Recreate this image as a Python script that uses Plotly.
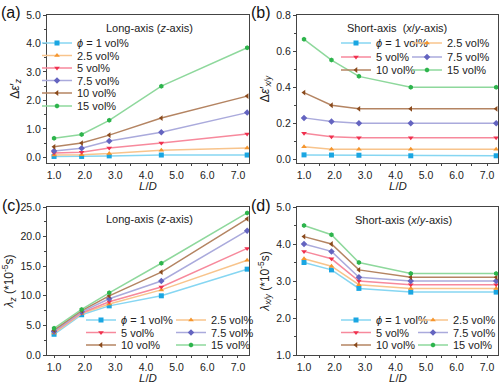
import plotly.graph_objects as go

# ---------------- data ----------------
LD = [1.0, 1.9, 2.8, 4.5, 7.3]
phi_names = ["<i>ϕ</i> = 1 vol%", "2.5 vol%", "5 vol%", "7.5 vol%", "10 vol%", "15 vol%"]

# (a) long-axis permittivity increment
deps_z = [
    [0.03, 0.03, 0.05, 0.08, 0.08],
    [0.08, 0.09, 0.13, 0.25, 0.33],
    [0.15, 0.18, 0.33, 0.50, 0.82],
    [0.22, 0.32, 0.57, 0.88, 1.57],
    [0.37, 0.50, 0.78, 1.38, 2.15],
    [0.67, 0.80, 1.30, 2.50, 3.85],
]
# (b) short-axis permittivity increment
deps_xy = [
    [0.025, 0.024, 0.023, 0.020, 0.020],
    [0.070, 0.056, 0.056, 0.056, 0.056],
    [0.145, 0.125, 0.120, 0.120, 0.120],
    [0.230, 0.210, 0.200, 0.200, 0.200],
    [0.370, 0.300, 0.280, 0.280, 0.280],
    [0.665, 0.550, 0.460, 0.400, 0.400],
]
# (c) long-axis relaxation time
lam_z = [
    [3.5, 6.8, 8.3, 10.0, 14.5],
    [3.7, 7.0, 8.6, 11.0, 16.0],
    [3.9, 7.1, 9.0, 11.5, 18.0],
    [4.0, 7.3, 9.5, 12.5, 21.0],
    [4.2, 7.5, 10.0, 14.0, 23.0],
    [4.5, 7.7, 10.5, 15.5, 24.0],
]
# (d) short-axis relaxation time
lam_xy = [
    [3.5, 3.3, 2.8, 2.7, 2.7],
    [3.6, 3.4, 2.9, 2.8, 2.8],
    [3.8, 3.6, 3.0, 2.9, 2.9],
    [4.0, 3.8, 3.1, 3.0, 3.0],
    [4.2, 4.0, 3.3, 3.1, 3.1],
    [4.5, 4.25, 3.5, 3.2, 3.2],
]

x_ticks = [1.0, 2.0, 3.0, 4.0, 5.0, 6.0, 7.0]
x_title = "<i>L</i>/<i>D</i>"

# ---------------- styles ----------------
marker_colors = ["#1aa6e2", "#f5962e", "#f0304e", "#6464c0", "#8a4a1c", "#2db44c"]
line_colors = ["#86d6f2", "#f8c48c", "#f7899c", "#aaaadc", "#b48462", "#8ed89c"]
symbols = ["square", "triangle-up", "triangle-down", "diamond", "triangle-left", "hexagon"]

FONT = "Liberation Sans, Arial, sans-serif"
W, H = 500, 385
MB = 30  # bottom margin
PH = H - MB

def px_x(v):
    return v / W

def px_y(v):
    return 1 - v / PH

# subplot boxes in pixels: (left, right, top, bottom)
boxes = [(47, 249, 15, 163), (297, 498, 15, 163), (47, 249, 207, 355), (297, 498, 207, 355)]
xrange_ = [0.77, 7.36]
yranges = [[-0.2, 5.0], [-0.02, 0.8], [0, 25], [1.0, 5.0]]
ytick0 = [0.0, 0.0, 0.0, 1.0]
ydticks = [1.0, 0.2, 5.0, 1.0]
yminor = [0.5, 0.1, 2.5, 0.5]
ytitles = [
    "Δ<i>ε</i>′<sub><i>z</i></sub>",
    "Δ<i>ε</i>′<sub><i>x/y</i></sub>",
    "<i>λ</i><sub><i>z</i></sub> (*10<sup>-5</sup>s)",
    "<i>λ</i><sub><i>x/y</i></sub> (*10<sup>-5</sup>s)",
]
panel_data = [deps_z, deps_xy, lam_z, lam_xy]
panel_letters = ["(a)", "(b)", "(c)", "(d)"]
panel_titles = ["Long-axis (<i>z</i>-axis)", "Short-axis  (<i>x</i>/<i>y</i>-axis)",
                "Long-axis (<i>z</i>-axis)", "Short-axis (<i>x</i>/<i>y</i>-axis)"]
title_pos = [(149, 28), (397, 28), (149, 219), (403, 220)]
letter_pos = [(11, 13), (261, 13), (11, 205), (261, 205)]
xtitle_y = [185.5, 185.5, 378.5, 378.5]

# legend entry positions (text start x, row center y) for each panel
legend_pos = [
    [(77, 43), (77, 55.5), (77, 68), (77, 80.5), (77, 93), (77, 106)],
    [(376, 43), (447, 43), (376, 57), (447, 57), (376, 70), (447, 70)],
    [(121, 320), (211, 320), (121, 332.5), (211, 332.5), (121, 345), (211, 345)],
    [(376, 320), (453, 320), (376, 332.5), (453, 332.5), (376, 345), (453, 345)],
]

AX = "#444"
fig = go.Figure()
layout = dict(
    width=W, height=H,
    margin=dict(l=0, r=0, t=0, b=MB, autoexpand=False),
    paper_bgcolor="white", plot_bgcolor="white",
    font=dict(family=FONT, size=11, color="#222"),
    showlegend=True,
    annotations=[],
)

leg_idx = 0
for p in range(4):
    xa = "x" if p == 0 else f"x{p+1}"
    ya = "y" if p == 0 else f"y{p+1}"
    for s in range(6):
        leg_idx += 1
        lname = "legend" if leg_idx == 1 else f"legend{leg_idx}"
        fig.add_trace(go.Scatter(
            x=LD, y=panel_data[p][s], name=phi_names[s],
            mode="lines+markers",
            line=dict(color=line_colors[s], width=1.5),
            marker=dict(color=marker_colors[s], symbol=symbols[s], size=5, line=dict(width=0)),
            xaxis=xa, yaxis=ya, legend=lname,
        ))
        tx, ty = legend_pos[p][s]
        layout[lname] = dict(
            x=px_x(tx - 40), y=px_y(ty), xanchor="left", yanchor="middle",
            bgcolor="rgba(0,0,0,0)", borderwidth=0,
            font=dict(family=FONT, size=11, color="#222"),
        )

    l, r, t, b = boxes[p]
    xkey = "xaxis" if p == 0 else f"xaxis{p+1}"
    ykey = "yaxis" if p == 0 else f"yaxis{p+1}"
    layout[xkey] = dict(
        domain=[px_x(l), px_x(r)], anchor=ya, range=xrange_,
        tickvals=x_ticks, tickformat=".1f",
        ticks="outside", ticklen=2, tickcolor=AX,
        minor=dict(ticks="outside", ticklen=2, dtick=0.5, tick0=0.5, tickcolor=AX),
        showline=True, linecolor=AX, linewidth=1, mirror=True,
        showgrid=False, zeroline=False,
        tickfont=dict(family=FONT, size=10.5, color="#222"),
    )
    layout[ykey] = dict(
        domain=[px_y(b), px_y(t)], anchor=xa, range=yranges[p],
        tick0=ytick0[p], dtick=ydticks[p], tickformat=".1f",
        ticks="outside", ticklen=3, tickcolor=AX,
        minor=dict(ticks="outside", ticklen=2, dtick=yminor[p], tickcolor=AX),
        showline=True, linecolor=AX, linewidth=1, mirror=True,
        showgrid=False, zeroline=False,
        tickfont=dict(family=FONT, size=10.5, color="#222"),
        title=dict(text=ytitles[p], font=dict(family=FONT, size=12, color="#222"), standoff=4),
    )
    # mirrored inside ticks on top and right edges
    layout[f"xaxis{p+5}"] = dict(
        overlaying=xa, anchor=ya, side="top", range=xrange_,
        tickvals=x_ticks, showticklabels=False,
        ticks="inside", ticklen=3, tickcolor=AX,
        minor=dict(ticks="inside", ticklen=2, dtick=0.5, tick0=0.5, tickcolor=AX),
        showline=False, showgrid=False, zeroline=False,
    )
    layout[f"yaxis{p+5}"] = dict(
        overlaying=ya, anchor=xa, side="right", range=yranges[p],
        tick0=ytick0[p], dtick=ydticks[p], showticklabels=False,
        ticks="inside", ticklen=3, tickcolor=AX,
        minor=dict(ticks="inside", ticklen=2, dtick=yminor[p], tickcolor=AX),
        showline=False, showgrid=False, zeroline=False,
    )
    # x-axis title
    layout["annotations"].append(dict(
        text=x_title, xref="paper", yref="paper",
        x=px_x((l + r) / 2), y=px_y(xtitle_y[p]), xanchor="center", yanchor="middle",
        showarrow=False, font=dict(family=FONT, size=11.5, color="#222"),
    ))
    # panel letter
    lx, ly = letter_pos[p]
    layout["annotations"].append(dict(
        text=panel_letters[p], xref="paper", yref="paper",
        x=px_x(lx), y=px_y(ly), xanchor="center", yanchor="middle",
        showarrow=False, font=dict(family=FONT, size=16, color="#111"),
    ))
    # panel title
    px_, py_ = title_pos[p]
    layout["annotations"].append(dict(
        text=panel_titles[p], xref="paper", yref="paper",
        x=px_x(px_), y=px_y(py_), xanchor="center", yanchor="middle",
        showarrow=False, font=dict(family=FONT, size=11, color="#222"),
    ))

fig.update_layout(**layout)
fig.write_html(
    "out.html",
    config={"displayModeBar": False},
    post_script="document.body.style.margin='0px';",
)
